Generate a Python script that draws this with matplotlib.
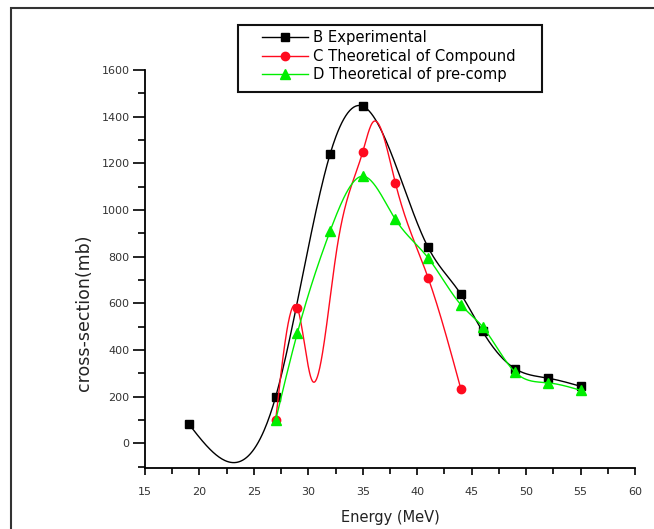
import numpy as np
import matplotlib
matplotlib.use("Agg")
import matplotlib.pyplot as plt
from matplotlib.patches import Rectangle

plt.rcParams['font.family'] = ['DejaVu Sans']

# measured cross sections (mb) vs beam energy (MeV)
energy_exp = [19, 27, 32, 35, 41, 44, 46, 49, 52, 55]
sigma_exp = [85, 200, 1240, 1445, 840, 640, 480, 320, 280, 245]

# compound-nucleus calculation; 30.3, 32.6 and 35.9 MeV are unmarked curve points
energy_cn = [27, 29, 30.3, 32.6, 35, 35.9, 38, 41, 44]
sigma_cn = [100, 580, 274, 828, 1250, 1375, 1115, 710, 235]
cn_marked = [0, 1, 4, 6, 7, 8]

# pre-compound calculation
energy_pc = [27, 29, 32, 35, 38, 41, 44, 46, 49, 52, 55]
sigma_pc = [100, 475, 910, 1145, 960, 795, 595, 500, 305, 260, 228]

labels = ["B Experimental", "C Theoretical of Compound", "D Theoretical of pre-comp"]


def natural_spline(x, y, n=400):
    x = np.asarray(x, float)
    y = np.asarray(y, float)
    h = np.diff(x)
    d = np.diff(y) / h
    k = len(x)
    A = np.zeros((k, k))
    b = np.zeros(k)
    A[0, 0] = 1
    A[-1, -1] = 1
    for i in range(1, k - 1):
        A[i, i - 1] = h[i - 1]
        A[i, i] = 2 * (h[i - 1] + h[i])
        A[i, i + 1] = h[i]
        b[i] = 6 * (d[i] - d[i - 1])
    M = np.linalg.solve(A, b)
    xs = np.linspace(x[0], x[-1], n)
    idx = np.clip(np.searchsorted(x, xs) - 1, 0, k - 2)
    x0, x1 = x[idx], x[idx + 1]
    hh = x1 - x0
    a = (x1 - xs) / hh
    c = (xs - x0) / hh
    ys = (a * y[idx] + c * y[idx + 1]
          + ((a ** 3 - a) * M[idx] + (c ** 3 - c) * M[idx + 1]) * hh ** 2 / 6)
    return xs, ys


W, H = 654, 529
fig = plt.figure(figsize=(W / 100, H / 100), dpi=100)
ax = fig.add_axes([145 / W, 1 - 468 / H, 490 / W, 398 / H])

series = [
    (energy_exp, sigma_exp, None, 'black', 's', 5.5),
    (energy_cn, sigma_cn, cn_marked, '#ff0a1e', 'o', 6),
    (energy_pc, sigma_pc, None, '#00ee00', '^', 6.5),
]
handles = []
for (ex, sg, mk, col, m, ms), lab in zip(series, labels):
    xs, ys = natural_spline(ex, sg)
    ax.plot(xs, ys, color=col, lw=1.0)
    ex_m = [ex[i] for i in mk] if mk else ex
    sg_m = [sg[i] for i in mk] if mk else sg
    ax.plot(ex_m, sg_m, ls='none', marker=m, ms=ms, color=col, mec=col)
    handles.append(plt.Line2D([], [], color=col, lw=1.0, marker=m, ms=ms, mec=col))

ax.set_xlim(15, 60)
ax.set_ylim(-105, 1600)
ax.set_xticks(np.arange(15, 61, 5))
ax.set_xticks(np.arange(17.5, 60, 5), minor=True)
ax.set_yticks(np.arange(0, 1601, 200))
ax.set_yticks(np.arange(-100, 1600, 100), minor=True)
for s in ['top', 'right']:
    ax.spines[s].set_visible(False)
for s in ['left', 'bottom']:
    ax.spines[s].set_linewidth(1.3)
ax.tick_params(axis='x', which='major', direction='out', length=5, width=1.2,
               labelsize=8, labelcolor='#333333', pad=9)
ax.tick_params(axis='x', which='minor', direction='out', length=4, width=1.2)
ax.tick_params(axis='y', which='major', direction='out', length=9, width=1.2,
               labelsize=8, labelcolor='#333333', pad=2)
ax.tick_params(axis='y', which='minor', direction='out', length=5, width=1.2)

ax.set_xlabel("Energy (MeV)", fontsize=10.5, color='#222222')
ax.xaxis.set_label_coords(0.5, -0.105)
ax.set_ylabel("cross-section(mb)", fontsize=12.5, color='#222222')
ax.yaxis.set_label_coords(-0.106, 0.389)

# legend box
fig.add_artist(Rectangle((238 / W, 1 - 92 / H), 304 / W, 67 / H,
                         transform=fig.transFigure, facecolor='white',
                         edgecolor='#111111', lw=1.5, zorder=5))
fig.legend(handles, labels, loc='upper left', bbox_to_anchor=(262 / W, 1 - 30 / H),
           frameon=False, borderpad=0, borderaxespad=0, handlelength=3.1,
           handletextpad=0.35, labelspacing=0.25, fontsize=10.6).set_zorder(6)

# outer frame
fig.add_artist(Rectangle((11 / W, -0.1), 1.2, 1.1 - 8 / H, transform=fig.transFigure,
                         fill=False, edgecolor='#333333', lw=1.5))

fig.savefig("out.png", dpi=100)
